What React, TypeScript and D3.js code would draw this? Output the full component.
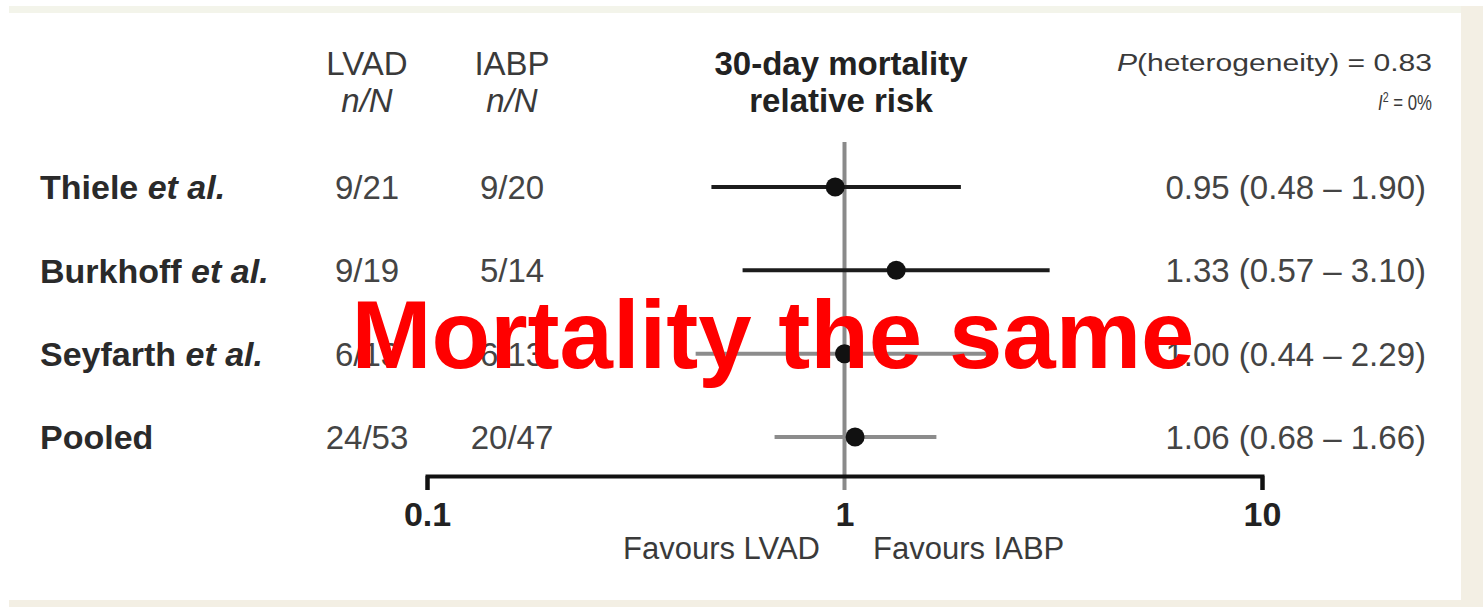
import { useEffect, useRef } from "react";
import * as d3 from "d3";

// forest plot data
const studies = ["Thiele", "Burkhoff", "Seyfarth", "Pooled"];
const etAl = [true, true, true, false];
const lvadCounts = ["9/21", "9/19", "6/13", "24/53"];
const iabpCounts = ["9/20", "5/14", "6/13", "20/47"];
const relRisk = [0.95, 1.33, 1.0, 1.06];
const ciLow = [0.48, 0.57, 0.44, 0.68];
const ciHigh = [1.9, 3.1, 2.29, 1.66];
const axisTicks = [0.1, 1, 10];
const heterogeneityP = "0.83";
const iSquared = "0%";

const lineColors = ["#1c1c1c", "#1c1c1c", "#8c8c8c", "#8c8c8c"];
const FONT = "'Liberation Sans', Arial, sans-serif";

const App = () => {
  const svgRef = useRef<SVGSVGElement>(null);

  useEffect(() => {
    const W = 1483;
    const H = 607;
    const svg = d3.select(svgRef.current).attr("width", W).attr("height", H);
    svg.selectAll("*").remove();

    // page + beige frame
    svg.append("rect").attr("width", W).attr("height", H).attr("fill", "#fff");
    svg.append("rect").attr("x", 9).attr("y", 6).attr("width", W - 9).attr("height", 7).attr("fill", "#f3f4ea");
    svg.append("rect").attr("x", 1461).attr("y", 6).attr("width", 22).attr("height", H - 6).attr("fill", "#f3efe4");
    svg.append("rect").attr("x", 9).attr("y", 600).attr("width", W - 9).attr("height", 7).attr("fill", "#f3efe4");

    const x = d3.scaleLog().domain([0.1, 10]).range([427, 1262]);
    const y = d3.scalePoint<string>().domain(studies).range([187, 437]);

    // headers
    const header = svg.append("g").attr("font-family", FONT).attr("fill", "#3a3a3a").attr("font-size", 33);
    [["LVAD", 367], ["IABP", 512]].forEach(([t, cx]) => {
      header.append("text").attr("x", cx).attr("y", 75).attr("text-anchor", "middle").text(t as string);
      header.append("text").attr("x", cx).attr("y", 112).attr("text-anchor", "middle")
        .attr("font-style", "italic").text("n/N");
    });
    header.append("text").attr("x", 841).attr("y", 75).attr("text-anchor", "middle")
      .attr("font-weight", "bold").attr("fill", "#222").text("30-day mortality");
    header.append("text").attr("x", 841).attr("y", 112).attr("text-anchor", "middle")
      .attr("font-weight", "bold").attr("fill", "#222").text("relative risk");

    const het = header.append("text").attr("x", 1432).attr("y", 71).attr("text-anchor", "end")
      .attr("font-size", 23).attr("textLength", 315).attr("lengthAdjust", "spacingAndGlyphs");
    het.append("tspan").attr("font-style", "italic").text("P");
    het.append("tspan").text(`(heterogeneity) = ${heterogeneityP}`);
    const isq = header.append("text").attr("x", 1432).attr("y", 110).attr("text-anchor", "end")
      .attr("font-size", 22).attr("textLength", 54).attr("lengthAdjust", "spacingAndGlyphs");
    isq.append("tspan").attr("font-style", "italic").text("I");
    isq.append("tspan").attr("font-size", 14).attr("dy", -8).text("2");
    isq.append("tspan").attr("dy", 8).text(` = ${iSquared}`);

    // reference line at 1
    svg.append("line").attr("x1", x(1)).attr("x2", x(1)).attr("y1", 142).attr("y2", 490)
      .attr("stroke", "#8a8a8a").attr("stroke-width", 4);

    // rows
    const rows = svg.append("g").attr("font-family", FONT);
    studies.forEach((s, i) => {
      const cy = y(s) as number;
      const lab = rows.append("text").attr("x", 40).attr("y", cy).attr("dy", "0.36em")
        .attr("font-size", 34).attr("font-weight", "bold").attr("fill", "#2a2a2a");
      lab.append("tspan").text(s);
      if (etAl[i]) lab.append("tspan").attr("font-style", "italic").text(" et al.");

      rows.append("text").attr("x", 367).attr("y", cy).attr("dy", "0.36em").attr("text-anchor", "middle")
        .attr("font-size", 33).attr("fill", "#444").text(lvadCounts[i]);
      rows.append("text").attr("x", 512).attr("y", cy).attr("dy", "0.36em").attr("text-anchor", "middle")
        .attr("font-size", 33).attr("fill", "#444").text(iabpCounts[i]);

      rows.append("line").attr("x1", x(ciLow[i])).attr("x2", x(ciHigh[i])).attr("y1", cy).attr("y2", cy)
        .attr("stroke", lineColors[i]).attr("stroke-width", 4);
      rows.append("circle").attr("cx", x(relRisk[i])).attr("cy", cy).attr("r", 9.5).attr("fill", "#111");

      rows.append("text").attr("x", 1426).attr("y", cy).attr("dy", "0.36em").attr("text-anchor", "end")
        .attr("font-size", 33).attr("fill", "#444")
        .text(`${relRisk[i].toFixed(2)} (${ciLow[i].toFixed(2)} – ${ciHigh[i].toFixed(2)})`);
    });

    // axis
    const axis = svg.append("g").attr("transform", "translate(0,476)")
      .call(d3.axisBottom(x).tickValues(axisTicks).tickSize(14).tickPadding(12).tickFormat(d3.format("~g")));
    axis.select(".domain").attr("stroke", "#111").attr("stroke-width", 4);
    axis.selectAll(".tick line").attr("stroke", "#111").attr("stroke-width", 4)
      .filter((d) => d === 1).remove();
    axis.selectAll(".tick text").attr("font-family", FONT).attr("font-size", 34)
      .attr("font-weight", "bold").attr("fill", "#222");

    const fav = svg.append("g").attr("font-family", FONT).attr("font-size", 31).attr("fill", "#3a3a3a");
    fav.append("text").attr("x", 820).attr("y", 559).attr("text-anchor", "end").text("Favours LVAD");
    fav.append("text").attr("x", 873).attr("y", 559).text("Favours IABP");

    // overlay caption
    svg.append("text").attr("x", 773).attr("y", 368).attr("text-anchor", "middle")
      .attr("font-family", FONT).attr("font-weight", "bold").attr("font-size", 96)
      .attr("fill", "#ff0000").text("Mortality the same");
  }, []);

  return (
    <div style={{ position: "absolute", left: 0, top: 0 }}>
      <svg ref={svgRef} style={{ display: "block" }}></svg>
    </div>
  );
};

export default App;
